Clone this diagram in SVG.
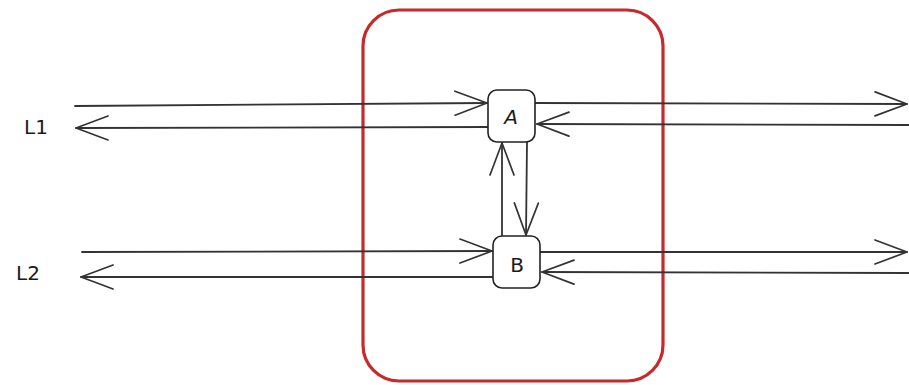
<svg xmlns="http://www.w3.org/2000/svg" width="909" height="385" viewBox="0 0 909 385">
  <style>
    .conn { stroke: #333333; stroke-width: 1.8; fill: none; marker-end: url(#arrow); stroke-linecap: round; }
    .node rect { fill: #ffffff; stroke: #222222; stroke-width: 1.6; }
    .lbl { font-family: "DejaVu Sans", "Liberation Sans", sans-serif; font-size: 20px; fill: #1a1a1a; }
  </style>
  <defs>
    <marker id="arrow" markerUnits="userSpaceOnUse" markerWidth="36" markerHeight="28" viewBox="0 0 36 28" refX="34" refY="14" orient="auto">
      <path d="M2,2 L34,14 L2,26" fill="none" stroke="#333333" stroke-width="1.7" stroke-linecap="round" stroke-linejoin="round"/>
    </marker>
  </defs>
  <rect width="909" height="385" fill="#ffffff"/>

  <g id="boundary">
    <rect x="363" y="10" width="300" height="371" rx="36" ry="36" fill="none" stroke="#c62a2a" stroke-width="3.2"/>
  </g>

  <g id="connectors">
    <path class="conn" d="M75,106 L487,103"/>
    <path class="conn" d="M488,127 L76,128"/>
    <path class="conn" d="M535,103 L907,104"/>
    <path class="conn" d="M909,125 L537,124"/>
    <path class="conn" d="M82,252 L492,251"/>
    <path class="conn" d="M493,277 L81,277"/>
    <path class="conn" d="M540,252 L907,252"/>
    <path class="conn" d="M909,273 L542,272"/>
    <path class="conn" d="M502,236 L502,143"/>
    <path class="conn" d="M527,142 L526,235"/>
  </g>

  <g id="node-A" class="node">
    <rect x="488" y="90" width="47" height="52" rx="9" ry="9"/>
    <text class="lbl" x="511" y="124" text-anchor="middle" font-style="italic">A</text>
  </g>
  <g id="node-B" class="node">
    <rect x="493" y="236" width="47" height="52" rx="9" ry="9"/>
    <text class="lbl" x="517" y="272" text-anchor="middle">B</text>
  </g>

  <g id="label-L1">
    <text class="lbl" x="24" y="134">L1</text>
  </g>
  <g id="label-L2">
    <text class="lbl" x="16" y="280">L2</text>
  </g>
</svg>
